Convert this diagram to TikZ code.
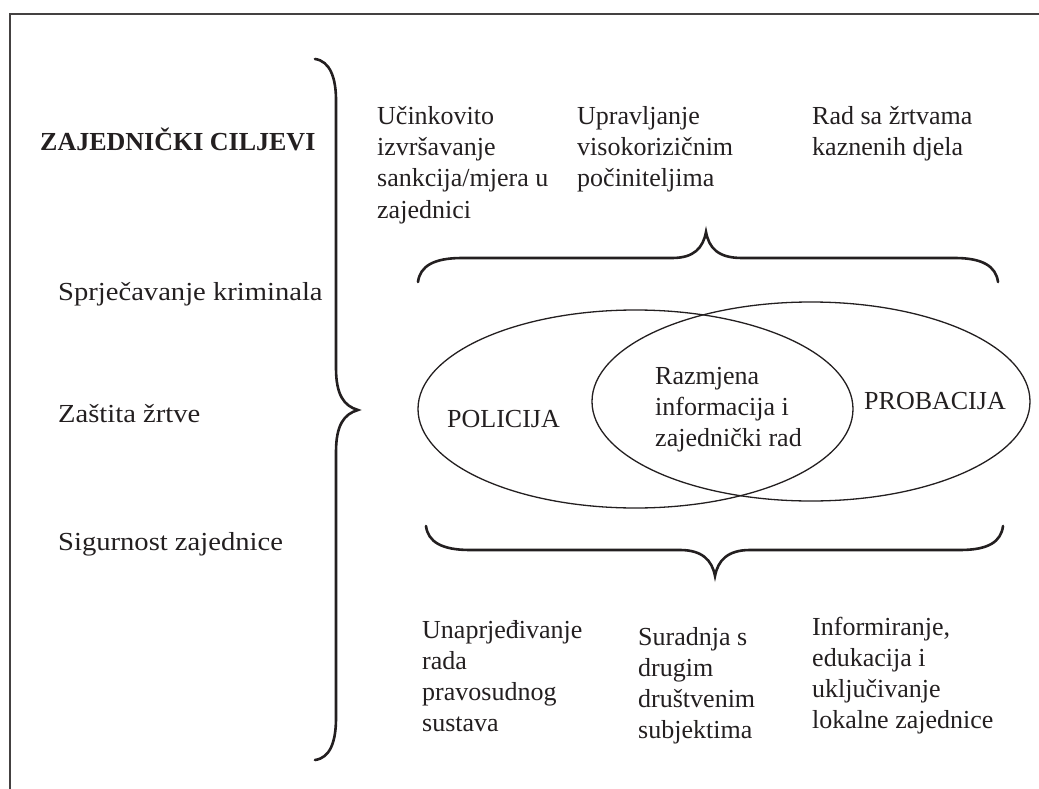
\documentclass[tikz,border=0pt]{standalone}
\usepackage{fontspec}
\setmainfont{Liberation Serif}
\newfontfamily\widefont[FakeStretch=1.1]{Liberation Serif}
\newcommand{\mylines}[1]{\begin{tabular}[t]{@{}l@{}}#1\end{tabular}}
\definecolor{ink}{HTML}{231F20}
\begin{document}
\begin{tikzpicture}[x=1pt,y=-1pt,
  txt/.style={anchor=base west, inner sep=0pt, text=ink, font=\fontsize{26}{31}\selectfont},
  side/.style={anchor=base west, inner sep=0pt, text=ink, font=\widefont\fontsize{26}{31}\selectfont},
  head/.style={anchor=base west, inner sep=0pt, text=ink, font=\bfseries\fontsize{26}{31}\selectfont},
  brace/.style={line width=2.6pt, line cap=round, draw=ink},
  venn/.style={draw=ink, line width=1.3pt}]
\useasboundingbox (0,0) rectangle (1039,789);
% frame
\draw[line width=1.4pt, draw=ink!85] (1039,14) -- (10,14) -- (10,789);
% ellipses
\draw[venn] (635.5,409) ellipse [x radius=217.5pt, y radius=99pt];
\draw[venn] (811,401.5) ellipse [x radius=219pt, y radius=99.5pt];
% left labels
\node[head] (goals) at (40,150) {ZAJEDNIČKI CILJEVI};
\node[side] (s1) at (58,300) {Sprječavanje kriminala};
\node[side] (s2) at (58,422) {Zaštita žrtve};
\node[side] (s3) at (58,550) {Sigurnost zajednice};
% top labels
\node[txt] (t1) at (377,125) {\mylines{Učinkovito\\izvršavanje\\sankcija/mjera u\\zajednici}};
\node[txt] (t2) at (577,125) {\mylines{Upravljanje\\visokorizičnim\\počiniteljima}};
\node[txt] (t3) at (812,125) {\mylines{Rad sa žrtvama\\kaznenih djela}};
% venn labels
\node[txt] (pol) at (447,427) {POLICIJA};
\node[txt] (raz) at (655,384) {\mylines{Razmjena\\informacija i\\zajednički rad}};
\node[txt] (prob) at (864,409) {PROBACIJA};
% bottom labels
\node[txt] (b1) at (422,638) {\mylines{Unaprjeđivanje\\rada\\pravosudnog\\sustava}};
\node[txt] (b2) at (638,645) {\mylines{Suradnja s\\drugim\\društvenim\\subjektima}};
\node[txt] (b3) at (812,635) {\mylines{Informiranje,\\edukacija i\\uključivanje\\lokalne zajednice}};
% vertical brace
\draw[brace] (315,59) .. controls (330,61) and (336,78) .. (336,100)
  -- (336,368) .. controls (336,395) and (344,406) .. (358,410)
  .. controls (344,414) and (336,425) .. (336,452)
  -- (336,718) .. controls (336,742) and (330,758) .. (315,760);
% top brace
\draw[brace] (418,282) .. controls (420,266) and (434,258) .. (462,258)
  -- (672,258) .. controls (694,258) and (703,248) .. (706,232)
  .. controls (709,248) and (718,258) .. (742,258)
  -- (955,258) .. controls (982,258) and (996,266) .. (998,282);
% bottom brace
\draw[brace] (426,526) .. controls (428,542) and (442,550) .. (470,550)
  -- (680,550) .. controls (702,550) and (712,560) .. (715,576)
  .. controls (718,560) and (728,550) .. (750,550)
  -- (960,550) .. controls (988,550) and (1001,542) .. (1003,526);
\end{tikzpicture}
\end{document}
